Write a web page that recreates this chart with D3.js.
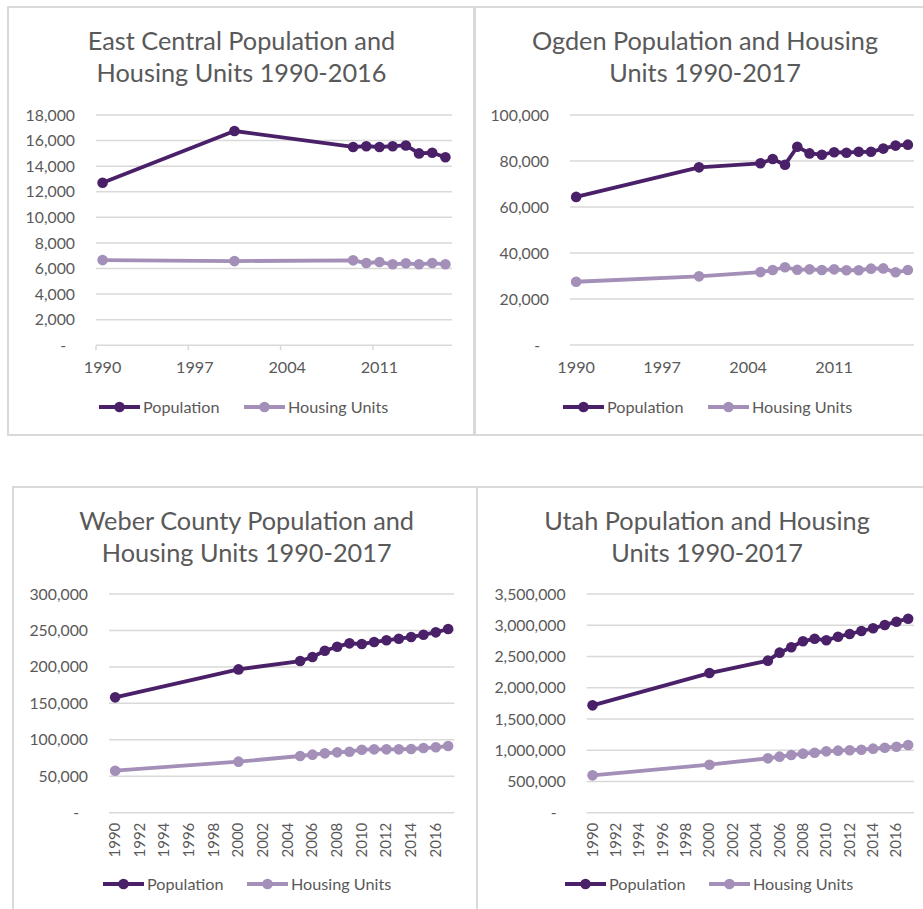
<!DOCTYPE html>
<html><head><meta charset="utf-8">
<script src="https://cdn.jsdelivr.net/npm/d3@7"></script>
<style>body{margin:0;background:#fff}svg{display:block}text{font-family:Lato,"Open Sans",sans-serif}</style>
</head><body><svg id="c" width="923" height="909"></svg>
<script>
// ---- Data ----
const ecYears = [1990, 2000, 2009, 2010, 2011, 2012, 2013, 2014, 2015, 2016];
const ecPopulation = [12700, 16750, 15500, 15560, 15500, 15560, 15620, 15000, 15050, 14700];
const ecHousing = [6660, 6580, 6640, 6430, 6510, 6330, 6410, 6330, 6430, 6330];

const years = [1990, 2000, 2005, 2006, 2007, 2008, 2009, 2010, 2011, 2012, 2013, 2014, 2015, 2016, 2017];
const ogdenPopulation = [64400, 77250, 79000, 80900, 78400, 86200, 83300, 82750, 83800, 83600, 84000, 84000, 85400, 86700, 87100];
const ogdenHousing = [27500, 29850, 31700, 32600, 33800, 32700, 32900, 32600, 32900, 32500, 32500, 33200, 33300, 31600, 32600];
const weberPopulation = [158200, 196600, 208000, 213600, 222200, 227700, 232300, 231400, 234200, 236500, 238700, 241000, 244200, 247400, 252000];
const weberHousing = [57600, 70000, 77800, 79600, 81400, 82800, 83700, 86400, 86900, 86900, 86900, 87400, 88700, 89700, 91500];
const utahPopulation = [1718000, 2235000, 2433000, 2561000, 2647000, 2743000, 2785000, 2759000, 2817000, 2860000, 2908000, 2951000, 3004000, 3057000, 3105000];
const utahHousing = [598000, 768000, 870000, 897000, 923000, 945000, 960000, 982000, 993000, 1000000, 1008000, 1025000, 1040000, 1056000, 1083000];

const titles = [
  ["East Central Population and", "Housing Units 1990-2016"],
  ["Ogden Population and Housing", "Units 1990-2017"],
  ["Weber County Population and", "Housing Units 1990-2017"],
  ["Utah Population and Housing", "Units 1990-2017"]
];
const seriesNames = ["Population", "Housing Units"];
const sparseTicks = [1990, 1997, 2004, 2011];
const denseTicks = [1990, 1992, 1994, 1996, 1998, 2000, 2002, 2004, 2006, 2008, 2010, 2012, 2014, 2016];
const yTicks1 = [0, 2000, 4000, 6000, 8000, 10000, 12000, 14000, 16000, 18000];
const yTicks2 = [0, 20000, 40000, 60000, 80000, 100000];
const yTicks3 = [0, 50000, 100000, 150000, 200000, 250000, 300000];
const yTicks4 = [0, 500000, 1000000, 1500000, 2000000, 2500000, 3000000, 3500000];

// ---- Styles ----
const popColor = "#4a2068", huColor = "#a38fb8", textColor = "#595959", gridColor = "#d9d9d9";
const svg = d3.select("#c");

const panels = [
  {box:[8,7,466,428], plot:[96,115,452,345.3], yrs:ecYears, pop:ecPopulation, hu:ecHousing, first:1990, slots:27,
   yTicks:yTicks1, xTicks:sparseTicks, rotate:false, tickMarks:true, titleX:241.5, titleY:[50,82], legY:407,
   leg:[99,244], title:titles[0]},
  {box:[475,7,470,428], plot:[570,115,914,345], yrs:years, pop:ogdenPopulation, hu:ogdenHousing, first:1990, slots:28,
   yTicks:yTicks2, xTicks:sparseTicks, rotate:false, tickMarks:false, titleX:705, titleY:[50,82], legY:407,
   leg:[563,708], title:titles[1]},
  {box:[13,487,464,440], plot:[109,594,454.3,812.7], yrs:years, pop:weberPopulation, hu:weberHousing, first:1990, slots:28,
   yTicks:yTicks3, xTicks:denseTicks, rotate:true, tickMarks:false, titleX:246.7, titleY:[529.5,562], legY:884,
   leg:[103,247], title:titles[2]},
  {box:[477,487,470,440], plot:[586.7,594,914,812.7], yrs:years, pop:utahPopulation, hu:utahHousing, first:1990, slots:28,
   yTicks:yTicks4, xTicks:denseTicks, rotate:true, tickMarks:false, titleX:707, titleY:[529.5,562], legY:884,
   leg:[565,709], title:titles[3]}
];

const fmt = d3.format(",");

panels.forEach(p => {
  const g = svg.append("g");
  g.append("rect").attr("x", p.box[0]).attr("y", p.box[1]).attr("width", p.box[2]).attr("height", p.box[3])
    .attr("fill", "#fff").attr("stroke", gridColor).attr("stroke-width", 2);

  const [x0, y0, x1, y1] = p.plot;
  const x = d3.scaleLinear().domain([p.first, p.first + p.slots]).range([x0, x1]);
  const y = d3.scaleLinear().domain([0, d3.max(p.yTicks)]).range([y1, y0]);

  // title
  p.title.forEach((t, i) => g.append("text").attr("x", p.titleX).attr("y", p.titleY[i])
    .attr("text-anchor", "middle").attr("font-size", 25.3).attr("fill", textColor).text(t));

  // grid
  g.selectAll(".grid").data(p.yTicks).join("line")
    .attr("x1", x0).attr("x2", x1).attr("y1", d => y(d)).attr("y2", d => y(d))
    .attr("stroke", gridColor).attr("stroke-width", 1.5);

  // y labels
  const yAxis = d3.axisLeft(y).tickValues(p.yTicks).tickSize(0).tickPadding(21)
    .tickFormat(d => d === 0 ? "-" : fmt(d));
  const ya = g.append("g").attr("transform", `translate(${x0},0)`).call(yAxis);
  ya.select(".domain").remove();
  ya.selectAll("text").attr("font-size", 15.8).attr("fill", textColor).attr("font-family", "Lato")
    .attr("dx", d => d === 0 ? -9 : 0);

  // x axis
  const xa = g.append("g").attr("transform", `translate(0,${y1})`);
  if (p.tickMarks) {
    xa.selectAll("line").data(p.xTicks).join("line")
      .attr("x1", d => x(d)).attr("x2", d => x(d)).attr("y1", 0).attr("y2", 5)
      .attr("stroke", gridColor).attr("stroke-width", 1.5);
  }
  if (!p.rotate) {
    xa.selectAll("text").data(p.xTicks).join("text")
      .attr("x", d => x(d + 0.5)).attr("y", 28).attr("text-anchor", "middle")
      .attr("font-size", 16.2).attr("fill", textColor).text(d => d);
  } else {
    xa.selectAll("text").data(p.xTicks).join("text")
      .attr("transform", d => `translate(${x(d + 0.5) + 5},10) rotate(-90)`)
      .attr("text-anchor", "end").attr("font-size", 15).attr("fill", textColor).text(d => d);
  }

  // series
  const series = [{vals:p.hu, color:huColor}, {vals:p.pop, color:popColor}];
  series.forEach(s => {
    const pts = p.yrs.map((yr, i) => [x(yr + 0.5), y(s.vals[i])]);
    g.append("path").attr("d", d3.line()(pts)).attr("fill", "none")
      .attr("stroke", s.color).attr("stroke-width", 3.8).attr("stroke-linejoin", "round");
    g.selectAll(null).data(pts).join("circle")
      .attr("cx", d => d[0]).attr("cy", d => d[1]).attr("r", 5.3).attr("fill", s.color);
  });

  // legend
  [popColor, huColor].forEach((c, i) => {
    const lx = p.leg[i];
    g.append("line").attr("x1", lx).attr("x2", lx + 41).attr("y1", p.legY).attr("y2", p.legY)
      .attr("stroke", c).attr("stroke-width", 3.8);
    g.append("circle").attr("cx", lx + 20.5).attr("cy", p.legY).attr("r", 5.3).attr("fill", c);
    g.append("text").attr("x", lx + 44).attr("y", p.legY + 5.8).attr("font-size", 16.2)
      .attr("fill", textColor).text(seriesNames[i]);
  });
});
</script></body></html>
